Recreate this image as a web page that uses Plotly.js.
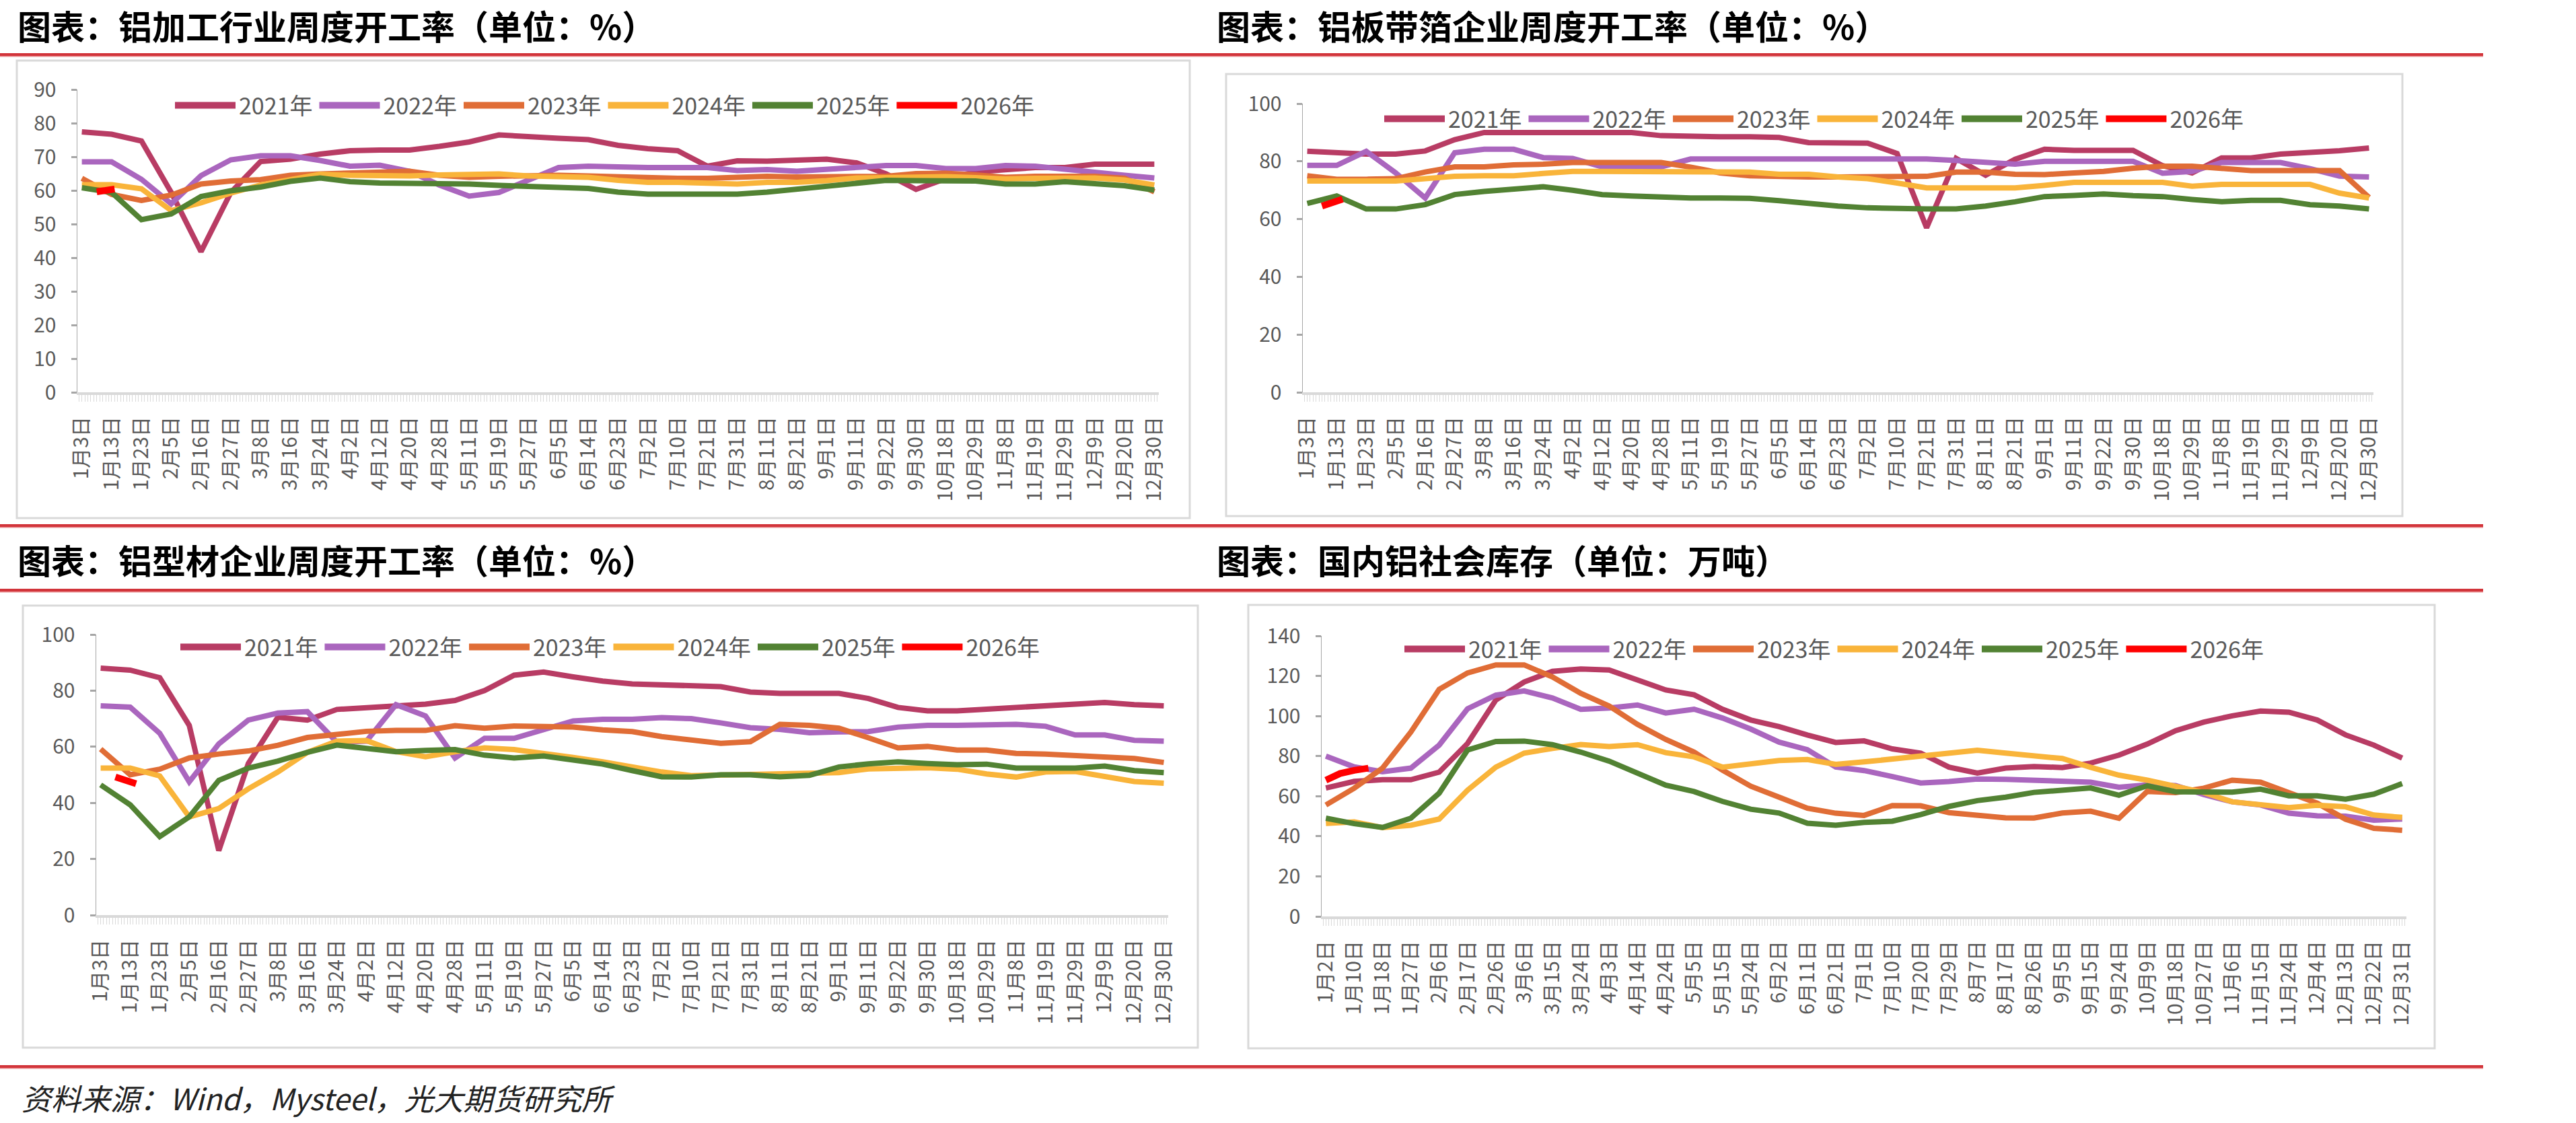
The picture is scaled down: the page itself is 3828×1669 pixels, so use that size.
<!DOCTYPE html>
<html>
<head>
<meta charset="utf-8">
<script src="https://cdn.plot.ly/plotly-3.0.1.min.js"></script>
<style>
html, body { margin: 0; padding: 0; background: #ffffff; }
#chart { width: 3828px; height: 1669px; }
</style>
</head>
<body>
<div id="chart"></div>
<script>
// ---- tick labels (trading dates) ----
const weekLabels = ['1月3日','1月13日','1月23日','2月5日','2月16日','2月27日','3月8日','3月16日','3月24日','4月2日',
  '4月12日','4月20日','4月28日','5月11日','5月19日','5月27日','6月5日','6月14日','6月23日','7月2日',
  '7月10日','7月21日','7月31日','8月11日','8月21日','9月1日','9月11日','9月22日','9月30日','10月18日',
  '10月29日','11月8日','11月19日','11月29日','12月9日','12月20日','12月30日'];
const stockLabels = ['1月2日','1月10日','1月18日','1月27日','2月6日','2月17日','2月26日','3月6日','3月15日','3月24日',
  '4月3日','4月14日','4月24日','5月5日','5月15日','5月24日','6月2日','6月11日','6月21日','7月1日',
  '7月10日','7月20日','7月29日','8月7日','8月17日','8月26日','9月5日','9月15日','9月24日','10月9日',
  '10月18日','10月27日','11月6日','11月15日','11月24日','12月4日','12月13日','12月22日','12月31日'];
const yearNames = ['2021年','2022年','2023年','2024年','2025年','2026年'];

// ---- 铝加工行业周度开工率 (%) ----
const proc2021 = [77.4,76.7,74.7,59.4,41.8,59.4,68.6,69.3,70.8,71.8,72,72,73.1,74.4,76.5,76.2,75.5,75.1,73.4,72.4,71.8,67.2,68.8,68.7,68.9,69.3,68.2,64.9,60.3,63.5,65.5,66.2,66.8,66.8,67.8,67.8,67.8];
const proc2022 = [68.5,68.5,63.3,56,64.4,69.1,70.3,70.3,68.9,67.2,67.5,65.7,61.6,58.3,59.4,62.9,66.8,67.2,66.8,66.8,66.8,66.8,65.9,66.2,65.7,66.2,66.6,67.4,67.4,66.5,66.5,67.4,67.2,66.2,65.4,64.5,63.7];
const proc2023 = [63.6,58.8,57,58.6,61.9,62.8,63.2,64.5,64.9,65.3,65.7,65.7,64.5,63.9,64.2,64.5,64.5,64.3,64,63.7,63.6,63.6,63.9,64.2,64,64,63.9,64.2,65,65.1,64.6,63.9,64.2,64.2,64.2,63.6,59.6];
const proc2024 = [61.7,61.7,60.5,54,56.3,59.2,61.6,63.4,64.8,64.5,64.3,64.3,64.6,64.9,64.9,64.3,64.2,63.9,63,62.4,62.4,62.3,61.9,62.4,62.4,62.9,63.7,63.8,64.1,64.1,63.8,63.4,63.6,63.8,63.7,63.1,61.6];
const proc2025 = [60.8,59.4,51.3,53,58.2,59.9,61,62.7,63.7,62.6,62.2,62.2,62,61.9,61.5,61.2,61.2,60.6,59.5,58.9,58.9,58.9,58.9,59.5,60.3,61.5,62.2,63,62.9,62.9,62.8,61.9,61.9,62.6,61.9,61.4,60.1];
const proc2026 = [59.6,60.4];
const proc2026At = [0.5,1.1];

// ---- 铝板带箔企业周度开工率 (%) ----
const plate2021 = [83.5,82.8,82.5,82.5,83.6,87.5,90,90,90,90,90,90,88.9,88.5,88.5,88.5,88.3,86.5,86.5,86.3,82.7,57,81,75.2,80.7,84.2,83.8,83.8,83.8,78.5,76,81.2,81.2,82.5,82.9,83.7,84.6];
const plate2022 = [78.6,78.6,83.5,76,67.3,83,84.2,84.2,81.3,81,78.1,78.1,78.1,80.8,80.8,80.8,80.8,80.8,80.8,80.8,80.8,80.8,80.3,79.6,79,80,80,80,80,75.9,76.5,79.6,79.6,79.6,77.5,74.9,74.6];
const plate2023 = [75,73.8,73.8,74,76.3,78.1,78.1,78.8,79,79.6,79.6,79.6,79.6,78,76,75,74.6,74.6,74.6,74.6,74.6,74.8,76.3,76.3,75.5,75.4,76,76.5,77.6,78.3,78.3,77.5,76.8,76.8,76.8,76.8,67.5];
const plate2024 = [73.2,73.2,73.2,73.2,74,74.8,75,75,75.8,76.5,76.5,76.5,76.5,76.5,76.5,76.3,75.5,75.5,74.6,74,72.5,70.8,70.8,70.8,70.8,71.7,72.7,72.7,72.7,72.7,71.4,72,72,72,72,69,67.3];
const plate2025 = [65.4,68,63.5,63.5,65,68.5,69.6,70.4,71.2,70,68.5,68,67.6,67.3,67.3,67.2,66.4,65.4,64.5,63.9,63.6,63.5,63.5,64.5,66,67.8,68.2,68.7,68.1,67.8,66.8,66,66.5,66.5,65,64.5,63.5];
const plate2026 = [64.5,66.9];
const plate2026At = [0.5,1.2];

// ---- 铝型材企业周度开工率 (%) ----
const prof2021 = [88,87.3,84.6,67.6,23,54,70.5,69.5,73.3,73.8,74.7,75.2,76.5,80,85.5,86.6,84.9,83.4,82.4,82,82,81.4,79.5,79,79,79,77.2,74,72.8,72.8,73.4,74,75,75.6,75.8,75,74.6];
const prof2022 = [74.6,74.1,64.8,47.5,61,69.5,72,72.5,61.6,62,75,71,56,63,63,66,69.2,69.8,69.8,70.4,70,68.5,66.8,66.2,65,65.3,65.4,67,67.6,67.6,68,68,67.3,64.2,64.2,62.3,62];
const prof2023 = [59.2,50,52,56,57.4,58.5,60.5,63.3,64.4,65.5,65.8,65.8,67.5,66.6,67.4,67.2,67,66,65.4,63.6,62.3,61.2,61.8,68,67.6,66.6,63.2,59.6,60.1,58.8,58.8,57.6,57.4,56.8,56.3,55.8,54.4];
const prof2024 = [52.4,52.4,49.6,35,38,45,51,58,62,62.2,58.3,56.4,58.2,59.6,59,57.8,56.2,54.6,52.7,51,49.7,50,50.3,50.6,50.8,50.8,52.1,52.2,52.5,52,50.3,49.2,51,51.2,49.5,47.6,47];
const prof2025 = [46.4,39.3,28,35,48,52.4,54.9,58,60.6,59.5,58.2,58.7,59,57,56,56.7,55.3,53.8,51.5,49.3,49.2,50,50,49.3,49.8,52.8,53.9,54.6,54,53.6,53.8,52.4,52.4,52.4,53.1,51.5,50.8];
const prof2026 = [49.2,46.8];
const prof2026At = [0.5,1.2];

// ---- 国内铝社会库存 (万吨) ----
const stock2021 = [64.1,67.4,68.2,68.2,72,86.3,108,117,122.3,123.5,123,118,113,110.6,103.4,98,94.7,90.5,86.8,87.6,83.6,81.5,74.5,71.5,74,74.8,74.3,76.5,80.5,86,92.7,97,100.1,102.5,101.9,98,90.6,85.5,79];
const stock2022 = [80,74.6,72.2,74,85.5,103.6,110.4,112.5,109,103.3,104,105.5,101.5,103.4,99,93.5,87,83.2,74.6,72.8,69.8,66.6,67.3,68.6,68.4,68,68,67,64.5,65.6,65.3,60.8,57.2,55.6,51.5,50.2,50,48,48.6];
const stock2023 = [55.6,64,74,92,113.3,121.5,125.5,125.5,119.5,111.3,105,95.8,88.3,82,73,65,59.5,54,51.5,50.4,55.3,55.2,51.8,50.5,49.2,49.1,51.6,52.5,49,62.4,61.8,64,68,67,62,56.5,48.5,44,43];
const stock2024 = [46.4,47.2,44.3,45.5,48.6,63,74.5,81.5,83.8,85.8,84.8,85.7,81.7,79.6,74.5,76,77.8,78.3,75.9,77.1,78.5,79.6,81,82.9,81.5,80.4,78.8,74.4,70.5,68,65.1,61.8,57.2,56,54.3,55.5,54.7,50.6,49.4];
const stock2025 = [49,46.3,44.4,49,61.5,83,87.3,87.5,85.7,82,77.5,71.4,65.5,62.3,57.4,53.5,51.6,46.5,45.5,46.9,47.5,50.8,54.9,57.8,59.5,61.9,63,64.1,60.5,65.2,62.2,61.9,62,63.5,60.2,60.2,58.5,61,66.3];
const stock2026 = [68,71.3,72.9,74];
const stock2026At = [0,0.5,1,1.5];

// ---- styling ----
const W = 3828, H = 1669;
const fx = p => p / W;
const fy = p => 1 - p / H;
const FONT = '"Noto Sans CJK SC", "Noto Sans", sans-serif';
const yearColors = ['#B83C64', '#AA66BE', '#E06D36', '#F9B43A', '#528233', '#FF0000'];

const panels = [
  { title: '图表：铝加工行业周度开工率（单位：%）', titleAt: [24, 37],
    plot: [115, 1722, 133, 583], frame: [25, 1768, 90, 770], yMax: 90, yStep: 10,
    ticks: weekLabels, series: [proc2021, proc2022, proc2023, proc2024, proc2025],
    last: { x: proc2026At, y: proc2026 }, legendAt: [255, 157] },
  { title: '图表：铝板带箔企业周度开工率（单位：%）', titleAt: [1806, 37],
    plot: [1936, 3527, 154, 583], frame: [1822, 3570, 110, 767], yMax: 100, yStep: 20,
    ticks: weekLabels, series: [plate2021, plate2022, plate2023, plate2024, plate2025],
    last: { x: plate2026At, y: plate2026 }, legendAt: [2052, 177] },
  { title: '图表：铝型材企业周度开工率（单位：%）', titleAt: [24, 831],
    plot: [143, 1736, 943, 1360], frame: [34, 1780, 900, 1557], yMax: 100, yStep: 20,
    ticks: weekLabels, series: [prof2021, prof2022, prof2023, prof2024, prof2025],
    last: { x: prof2026At, y: prof2026 }, legendAt: [263, 962] },
  { title: '图表：国内铝社会库存（单位：万吨）', titleAt: [1806, 831],
    plot: [1964, 3576, 945, 1362], frame: [1855, 3618, 899, 1558], yMax: 140, yStep: 20,
    ticks: stockLabels, series: [stock2021, stock2022, stock2023, stock2024, stock2025],
    last: { x: stock2026At, y: stock2026 }, legendAt: [2082, 965] }
];

const traces = [];
const layout = {
  width: W, height: H,
  margin: { l: 0, r: 0, t: 0, b: 0 },
  paper_bgcolor: '#ffffff', plot_bgcolor: '#ffffff',
  font: { family: FONT, color: '#595959' },
  showlegend: true,
  shapes: [], annotations: []
};

panels.forEach((p, k) => {
  const n = k ? String(k + 1) : '';
  const xName = 'x' + n, yName = 'y' + n, lgName = 'legend' + n;
  const idx = p.ticks.map((_, i) => i);

  const lines = p.series.map((vals, s) => ({ x: idx.slice(0, vals.length), y: vals, w: 8, s: s }));
  lines.push({ x: p.last.x, y: p.last.y, w: 10, s: 5 });

  lines.forEach(d => {
    traces.push({
      type: 'scatter', mode: 'lines', name: yearNames[d.s],
      x: d.x, y: d.y, xaxis: xName, yaxis: yName,
      showlegend: false,
      line: { color: yearColors[d.s], width: d.w },
      hoverinfo: 'skip'
    });
  });
  // legend keys (thicker swatches than the plotted lines)
  yearNames.forEach((nm, s) => {
    traces.push({
      type: 'scatter', mode: 'lines', name: nm,
      x: [null], y: [null], xaxis: xName, yaxis: yName, legend: lgName,
      line: { color: yearColors[s], width: s === 5 ? 13 : 11 },
      hoverinfo: 'skip'
    });
  });

  const nTicks = p.ticks.length;
  layout['xaxis' + n] = {
    domain: [fx(p.plot[0]), fx(p.plot[1])], anchor: yName,
    range: [-0.15, nTicks - 1 + 0.15],
    tickmode: 'array', tickvals: idx, ticktext: p.ticks, tickangle: -90,
    ticks: 'outside', ticklen: 10, tickwidth: 1, tickcolor: '#D9D9D9',
    ticklabelstandoff: 10,
    minor: { tickmode: 'linear', tick0: 0, dtick: 0.1, ticks: 'outside', ticklen: 10,
             tickwidth: 1, tickcolor: '#D9D9D9', showgrid: false },
    showline: true, linecolor: '#D9D9D9', linewidth: 4,
    showgrid: false, zeroline: false, fixedrange: true,
    tickfont: { family: FONT, size: 30, color: '#595959' }
  };
  layout['yaxis' + n] = {
    domain: [fy(p.plot[3]), fy(p.plot[2])], anchor: xName,
    range: [0, p.yMax], tickmode: 'linear', tick0: 0, dtick: p.yStep,
    ticks: 'outside', ticklen: 8, tickwidth: 3, tickcolor: '#A6A6A6',
    ticklabelstandoff: 16,
    showline: true, linecolor: '#A6A6A6', linewidth: 1.5,
    showgrid: false, zeroline: false, fixedrange: true,
    tickfont: { family: FONT, size: 30, color: '#595959' }
  };
  layout[lgName] = {
    orientation: 'h', x: fx(p.legendAt[0]), xanchor: 'left',
    y: fy(p.legendAt[1]), yanchor: 'middle',
    bgcolor: 'rgba(0,0,0,0)', borderwidth: 0,
    itemwidth: 90, traceorder: 'normal',
    font: { family: FONT, size: 34, color: '#595959' }
  };

  // chart frame
  layout.shapes.push({
    type: 'rect', xref: 'paper', yref: 'paper', layer: 'below',
    x0: fx(p.frame[0]), x1: fx(p.frame[1]), y0: fy(p.frame[3]), y1: fy(p.frame[2]),
    line: { color: '#D9D9D9', width: 3 }, fillcolor: 'rgba(0,0,0,0)'
  });
  // heading
  layout.annotations.push({
    xref: 'paper', yref: 'paper', x: fx(p.titleAt[0]), y: fy(p.titleAt[1]),
    xanchor: 'left', yanchor: 'middle', showarrow: false,
    text: '<b>' + p.title + '</b>',
    font: { family: FONT, size: 50, color: '#000000' }
  });
});

// red rules between sections
[81, 781, 877, 1585].forEach(yy => {
  layout.shapes.push({
    type: 'rect', xref: 'paper', yref: 'paper', layer: 'above',
    x0: 0, x1: fx(3690), y0: fy(yy + 2), y1: fy(yy - 2),
    line: { width: 0 }, fillcolor: '#D2343A'
  });
  layout.shapes.push({
    type: 'rect', xref: 'paper', yref: 'paper', layer: 'above',
    x0: 0, x1: fx(3690), y0: fy(yy + 3.6), y1: fy(yy + 2),
    line: { width: 0 }, fillcolor: '#E8898C'
  });
});

// source note
layout.annotations.push({
  xref: 'paper', yref: 'paper', x: fx(30), y: fy(1631),
  xanchor: 'left', yanchor: 'middle', showarrow: false,
  text: '<i>资料来源：Wind，Mysteel，光大期货研究所</i>',
  font: { family: FONT, size: 44, color: '#222222' }
});

Plotly.newPlot('chart', traces, layout, { staticPlot: true, displayModeBar: false });
</script>
</body>
</html>
